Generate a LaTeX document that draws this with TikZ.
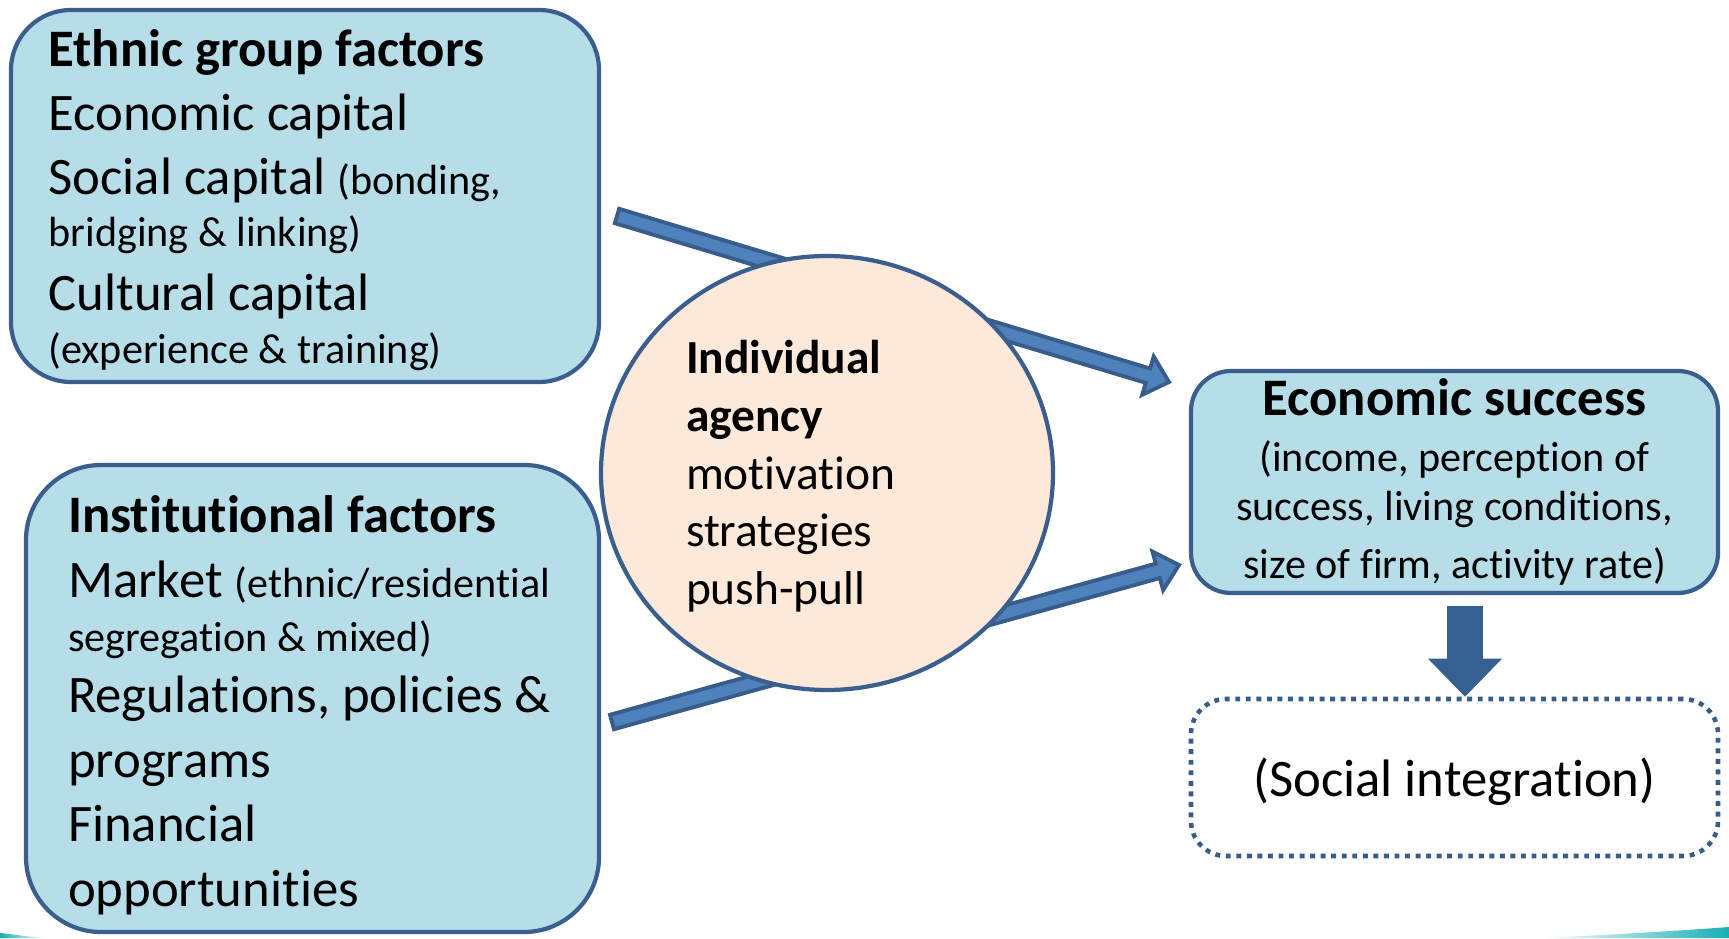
\documentclass[tikz,border=0pt]{standalone}
\usepackage{fontspec}
\setmainfont{Carlito}[Ligatures=NoCommon]
\usetikzlibrary{calc,shapes.geometric,arrows.meta}
\definecolor{boxfill}{HTML}{B7DEE8}
\definecolor{boxline}{HTML}{3A5F8E}
\definecolor{agentfill}{HTML}{FDE9D9}
\definecolor{arrowfill}{HTML}{4F81BD}
\definecolor{arrowline}{HTML}{385D8A}
\definecolor{downfill}{HTML}{376092}
\definecolor{stripteal}{HTML}{17AFB4}
\newcommand{\aside}[1]{{\fontsize{12}{14}\selectfont #1}}
\newcommand{\lift}[2]{\raisebox{#1}{\vphantom{#2}}#2}
\newcommand{\flowarrow}[2]{%
	\coordinate (#2neck) at ($(#2)!0.22cm!(#1)$);
	\draw[flow] ($(#1)!0.075cm!90:(#2)$)--($(#2neck)!0.075cm!90:(#2)$)--($(#2neck)!0.2cm!90:(#2)$)--(#2)--($(#2neck)!0.2cm!-90:(#2)$)--($(#2neck)!0.075cm!-90:(#2)$)--($(#1)!0.075cm!-90:(#2)$)--cycle;}

\begin{document}
\begin{tikzpicture}[
	factor/.style={draw=boxline,fill=boxfill,line width=1.2pt,inner sep=0pt,font=\fontsize{15}{18.2}\selectfont},
	agent/.style={ellipse,draw=boxline,fill=agentfill,line width=1.2pt,inner sep=0pt,align=flush left,font=\fontsize{13.5}{16.4}\selectfont},
	flow/.style={draw=arrowline,fill=arrowfill,line width=1.1pt,line join=miter},
	result/.style={draw=downfill,line width=0.36cm,-{Triangle[width=0.74cm,length=0.38cm,line width=0pt]},shorten <=0.11cm},
	outcome/.style={draw=arrowline,line width=1.3pt,dash pattern=on 1.4pt off 1.6pt,rounded corners=0.35cm,inner sep=0pt,font=\fontsize{15}{18}\selectfont}]
	\useasboundingbox (0,0) rectangle (17.29,9.38);
	\shade[left color=stripteal,right color=white] (0,0)--(0,0.05) .. controls (0.15,0.035) and (0.3,0.01) .. (0.45,0)--cycle;
	\shade[left color=white,right color=stripteal] (15.4,0) .. controls (16.1,0.03) and (16.9,0.08) .. (17.29,0.11)--(17.29,0)--cycle;
	\node[factor,rounded corners=0.6cm,minimum width=5.88cm,minimum height=3.72cm,text width=5.13cm,align=flush left] (ethnic) at (3.05,7.42) {{\bfseries\lift{2.5pt}{Ethnic group factors}}\\
		Economic capital\\
		Social capital \aside{(bonding,}\\[-3.4pt]
		\aside{bridging \& linking)}\\
		Cultural capital\\[-3.1pt]
		\aside{(experience \& training)}};
	\node[factor,rounded corners=0.75cm,minimum width=5.73cm,minimum height=4.67cm,text width=4.89cm,align=flush left,font=\fontsize{15}{18.35}\selectfont] (inst) at (3.125,2.395) {{\bfseries\lift{3.8pt}{Institutional factors}}\\
		Market \aside{(ethnic/residential}\\[-2.8pt]
		\aside{segregation \& mixed)}\\[-1.1pt]
		Regulations, policies \&\\
		programs\\
		Financial\\
		opportunities};
	\node[factor,rounded corners=0.4cm,minimum width=5.27cm,minimum height=2.22cm,align=center,font=\fontsize{12}{15}\selectfont] (succ) at (14.545,4.56) {{\fontsize{15}{15}\selectfont\bfseries Economic success}\\[0.9pt]
		(income, perception of\\[-1.1pt]
		success, living conditions,\\[1.5pt]
		size of firm, activity rate)};
	\node[outcome,minimum width=5.27cm,minimum height=1.57cm] (integ) at (14.545,1.605) {\lift{2.5pt}{(Social integration)}};
	\coordinate (ethtail) at (6.17,7.22);
	\coordinate (ethtip) at (11.69,5.56);
	\coordinate (insttail) at (6.12,2.16);
	\coordinate (insttip) at (11.79,3.73);
	\flowarrow{ethtail}{ethtip}
	\flowarrow{insttail}{insttip}
	\node[agent,minimum width=4.52cm,minimum height=4.34cm,text width=2.82cm] (indiv) at (8.27,4.65) {{\bfseries\lift{1.9pt}{Individual}}\\
		{\bfseries agency}\\
		motivation\\
		strategies\\
		push-pull};
	\draw[result] ([xshift=0.105cm]succ.south)--([xshift=0.105cm]integ.north);
\end{tikzpicture}
\end{document}
